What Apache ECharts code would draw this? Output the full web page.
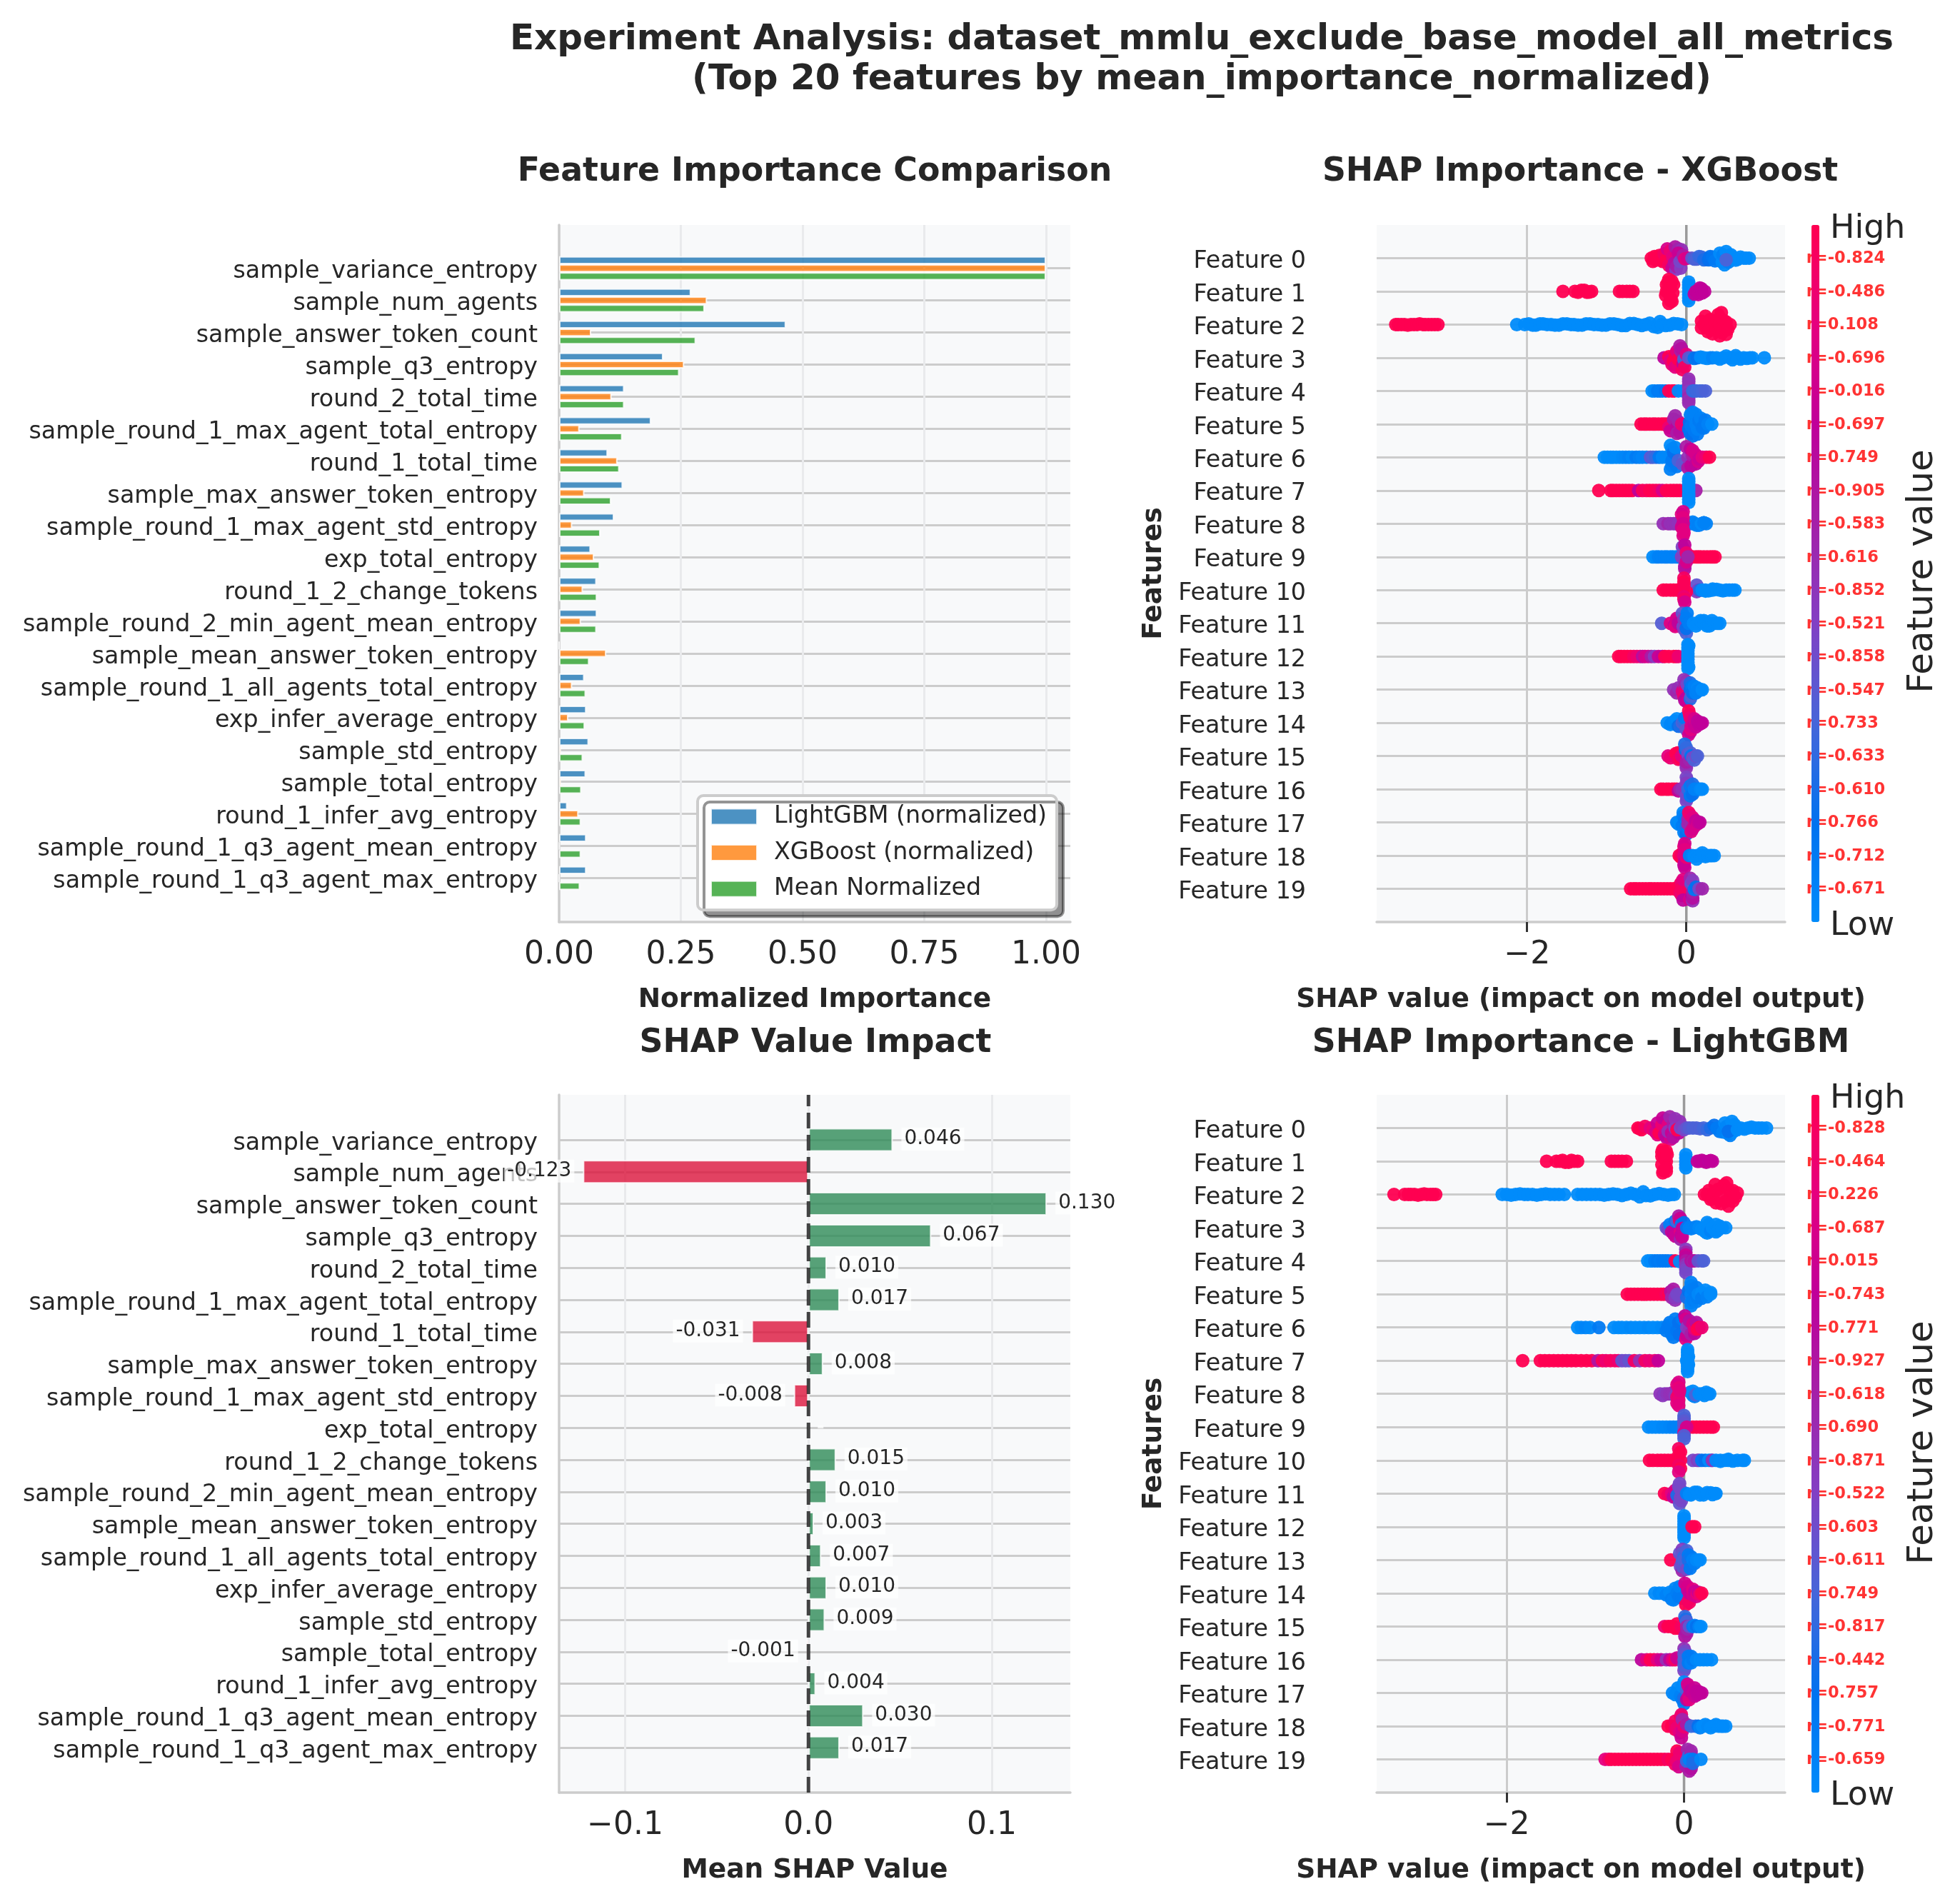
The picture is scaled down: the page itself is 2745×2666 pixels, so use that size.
<!DOCTYPE html>
<html><head><meta charset="utf-8">
<style>html,body{margin:0;padding:0;background:#fff}#c{width:2745px;height:2666px}</style>
<script src="https://cdn.jsdelivr.net/npm/echarts@6/dist/echarts.min.js"></script>
</head><body><div id="c"></div>
<script>
const featureNames = ['sample_variance_entropy','sample_num_agents','sample_answer_token_count','sample_q3_entropy','round_2_total_time','sample_round_1_max_agent_total_entropy','round_1_total_time','sample_max_answer_token_entropy','sample_round_1_max_agent_std_entropy','exp_total_entropy','round_1_2_change_tokens','sample_round_2_min_agent_mean_entropy','sample_mean_answer_token_entropy','sample_round_1_all_agents_total_entropy','exp_infer_average_entropy','sample_std_entropy','sample_total_entropy','round_1_infer_avg_entropy','sample_round_1_q3_agent_mean_entropy','sample_round_1_q3_agent_max_entropy'];
const lightgbmNorm = [1.0,0.271,0.466,0.214,0.134,0.189,0.100,0.131,0.113,0.065,0.077,0.078,0,0.052,0.056,0.061,0.055,0.017,0.056,0.056];
const xgboostNorm = [1.0,0.304,0.066,0.257,0.108,0.042,0.120,0.052,0.027,0.072,0.049,0.045,0.097,0.027,0.019,0.004,0.004,0.040,0.001,0];
const meanNorm = [1.0,0.299,0.281,0.247,0.134,0.130,0.124,0.107,0.085,0.084,0.078,0.077,0.062,0.055,0.053,0.049,0.046,0.045,0.045,0.043];
const meanShap = [0.046,-0.123,0.130,0.067,0.010,0.017,-0.031,0.008,-0.008,0,0.015,0.010,0.003,0.007,0.010,0.009,-0.001,0.004,0.030,0.017];
const shapRowNames = ['Feature 0','Feature 1','Feature 2','Feature 3','Feature 4','Feature 5','Feature 6','Feature 7','Feature 8','Feature 9','Feature 10','Feature 11','Feature 12','Feature 13','Feature 14','Feature 15','Feature 16','Feature 17','Feature 18','Feature 19'];
const rXgb = [-0.824,-0.486,0.108,-0.696,-0.016,-0.697,0.749,-0.905,-0.583,0.616,-0.852,-0.521,-0.858,-0.547,0.733,-0.633,-0.610,0.766,-0.712,-0.671];
const rLgb = [-0.828,-0.464,0.226,-0.687,0.015,-0.743,0.771,-0.927,-0.618,0.690,-0.871,-0.522,0.603,-0.611,0.749,-0.817,-0.442,0.757,-0.771,-0.659];
// each point: [shap value, vertical jitter in rows, feature value 0..1]
const xgbPoints = [
[[-.44,0,1],[-.42,.1,1],[-.38,.06,1],[-.4,-.05,1],[-.34,-.08,1],[-.33,.05,1],[-.3,.1,1],[-.28,-.13,.95],[-.25,.05,1],[-.24,-.28,.8],[-.22,.22,.95],[-.2,-.22,.9],[-.18,.3,.75],[-.17,-.05,.85],[-.14,-.34,.62],[-.13,.34,.45],[-.15,.15,.65],[-.12,.25,.6],[-.1,-.28,.55],[-.07,.3,.45],[-.06,-.25,.5],[-.1,-.15,.75],[-.08,.1,.4],[-.04,-.08,.6],[-.02,.02,.85],[.02,0,.8],[.07,0,.35],[.1,.03,.3],[.13,.03,.3],[.16,-.05,.25],[.19,-.03,.25],[.22,.05,.2],[.25,.03,.2],[.28,.05,.15],[.3,-.05,.15],[.33,-.03,.12],[.36,.08,.1],[.39,.04,.1],[.42,-.15,0],[.45,.12,0],[.46,-.1,.05],[.48,.2,0],[.5,-.2,0],[.53,.12,.05],[.56,-.1,0],[.59,-.03,0],[.62,.06,0],[.65,.03,0],[.68,-.03,0],[.72,0,0],[.75,0,0],[.5,.05,.3],[.79,0,0]],
[[-1.55,0,1],[-1.4,0,1],[-1.36,.03,1],[-1.32,-.03,1],[-1.28,-.03,1],[-1.25,.03,1],[-1.22,.02,1],[-1.19,0,1],[-.84,0,1],[-.8,0,1],[-.75,0,1],[-.71,0,1],[-.67,0,1],[-.22,-.36,1],[-.22,.36,1],[-.25,-.2,1],[-.23,-.28,1],[-.2,.28,1],[-.18,-.3,1],[-.18,.3,1],[-.26,.12,1],[-.2,-.1,1],[-.25,0,1],[-.17,.05,1],[-.2,.2,1],[-.16,-.2,1],[.03,-.28,0],[.03,-.2,0],[.03,-.1,0],[.03,0,0],[.03,.1,0],[.03,.2,0],[.03,.28,0],[.1,.08,.72],[.12,0,.72],[.15,.1,.72],[.17,-.1,.72],[.19,-.08,.72],[.2,.05,.72],[.23,0,.72]],
[[-3.65,0,1],[-3.62,0,1],[-3.58,0,1],[-3.54,0,1],[-3.5,.02,1],[-3.46,0,1],[-3.42,0,1],[-3.38,0,1],[-3.35,-.02,1],[-3.31,0,1],[-3.28,0,1],[-3.24,0,1],[-3.2,0,1],[-3.16,0,1],[-3.12,0,1],[-2.13,0,0],[-2.03,0,0],[-1.98,-.02,0],[-1.93,.02,0],[-1.89,.02,0],[-1.84,-.02,0],[-1.8,-.02,0],[-1.75,0,0],[-1.7,0,0],[-1.65,.02,0],[-1.6,.02,0],[-1.55,-.02,0],[-1.5,-.02,0],[-1.45,0,0],[-1.41,0,0],[-1.36,.02,0],[-1.31,.02,0],[-1.26,-.02,0],[-1.21,-.02,0],[-1.16,0,0],[-1.11,0,0],[-1.06,.02,0],[-1.01,.02,0],[-.96,-.02,0],[-.91,-.02,0],[-.86,0,0],[-.81,.03,0],[-.76,.03,0],[-.71,-.03,0],[-.66,-.03,0],[-.61,0,0],[-.56,.03,0],[-.51,0,0],[-.46,-.04,0],[-.41,.06,0],[-.36,.09,0],[-.33,-.09,0],[-.31,0,0],[-.26,.03,0],[-.21,.02,0],[-.16,-.03,0],[-.11,-.02,0],[-.06,0,0],[.19,-.1,1],[.19,.1,1],[.22,0,1],[.24,-.25,1],[.25,.1,1],[.27,.22,1],[.3,-.15,1],[.32,0,1],[.33,.28,1],[.36,-.1,1],[.38,.12,1],[.4,-.3,1],[.42,.34,1],[.42,-.2,1],[.42,0,1],[.44,-.36,1],[.44,.1,1],[.45,.25,1],[.47,-.12,1],[.5,-.08,1],[.5,.3,1],[.52,.15,1],[.55,0,1]],
[[-.28,0,.7],[-.22,-.03,1],[-.2,.08,.85],[-.18,.2,.9],[-.16,.1,1],[-.14,-.1,1],[-.14,.28,.85],[-.12,-.2,.85],[-.1,.25,.88],[-.1,.05,1],[-.08,-.36,.6],[-.07,-.2,.6],[-.06,-.28,.65],[-.05,.36,.95],[-.04,.18,.7],[-.03,.05,.3],[-.02,.28,.95],[0,-.1,.85],[.03,0,.35],[.07,0,.3],[.1,.02,.12],[.14,0,.15],[.18,-.02,0],[.22,0,0],[.26,.02,0],[.3,0,0],[.33,0,.04],[.38,0,0],[.42,.04,0],[.46,0,0],[.5,-.05,0],[.54,0,0],[.58,.06,0],[.6,0,0],[.62,-.06,0],[.64,0,0],[.68,.04,0],[.72,0,0],[.76,.02,0],[.8,0,0],[.83,0,0],[.98,0,0]],
[[-.43,0,0],[-.4,0,.02],[-.36,0,.1],[-.33,0,.08],[-.3,0,.08],[-.26,0,.12],[-.22,0,1],[-.18,0,.98],[-.15,0,1],[-.1,0,0],[-.04,0,0],[0,0,0],[.03,-.36,.52],[.03,-.28,.5],[.03,-.2,.48],[.03,-.1,.5],[.03,0,.45],[.03,.1,.5],[.03,.2,.55],[.03,.28,.5],[.03,.36,.52],[.08,0,.25],[.1,0,.25],[.13,0,.27],[.17,0,.27],[.2,0,.28],[.24,0,.3]],
[[-.57,0,1],[-.53,0,1],[-.5,0,1],[-.46,0,1],[-.42,0,1],[-.39,0,1],[-.35,0,1],[-.31,0,1],[-.28,0,1],[-.25,0,1],[-.22,.1,.9],[-.2,.2,.75],[-.16,-.15,.6],[-.14,-.25,.55],[-.12,.1,.7],[-.12,.28,.6],[-.1,-.08,.55],[-.08,.25,.65],[-.06,0,.9],[.03,.15,.15],[.04,-.05,.15],[.05,-.28,.05],[.05,.28,.12],[.06,.05,.1],[.08,-.36,.05],[.08,.36,.15],[.1,-.2,.05],[.1,.2,.1],[.12,-.3,.05],[.12,0,.05],[.14,.3,.1],[.14,.15,.05],[.16,-.1,.1],[.18,-.18,.05],[.2,.1,.1],[.22,.12,.1],[.24,-.12,.1],[.27,0,.05],[.32,0,0]],
[[-1.03,0,0],[-.99,0,0],[-.95,0,0],[-.92,0,0],[-.88,0,0],[-.84,0,0],[-.8,0,.02],[-.76,0,.03],[-.72,0,.05],[-.68,0,.02],[-.63,0,.1],[-.59,0,.06],[-.55,0,.04],[-.5,0,.05],[-.45,0,.35],[-.42,0,.3],[-.38,0,.25],[-.34,0,.1],[-.3,0,.02],[-.25,0,.02],[-.2,-.36,0],[-.2,.36,.06],[-.18,-.25,.02],[-.18,.25,.05],[-.18,.1,.1],[-.16,-.15,.15],[-.14,-.3,.03],[-.12,.28,.1],[-.1,.1,.3],[-.05,.2,.35],[0,-.32,.6],[.02,.32,.62],[.02,0,.5],[.05,-.25,.7],[.06,.25,.7],[.08,-.05,.6],[.08,-.2,.8],[.12,.2,.7],[.12,-.08,.8],[.15,.12,.8],[.16,.05,.75],[.2,0,.85],[.25,0,.9],[.29,0,1]],
[[-1.1,0,1],[-.95,0,1],[-.92,0,1],[-.88,0,1],[-.84,0,1],[-.8,0,1],[-.76,0,1],[-.72,0,1],[-.68,0,1],[-.6,0,.7],[-.55,0,.98],[-.5,0,.95],[-.46,0,1],[-.42,0,1],[-.38,0,.98],[-.34,0,.95],[-.3,0,.8],[-.25,0,1],[-.2,0,1],[-.16,0,1],[-.12,0,1],[-.08,0,1],[.12,0,.58],[.03,-.36,0],[.03,-.27,0],[.03,-.18,0],[.03,-.09,0],[.03,0,0],[.03,.09,0],[.03,.18,0],[.03,.27,0],[.03,.36,0]],
[[-.29,0,.5],[-.23,0,.55],[-.2,0,.5],[-.16,0,.5],[-.13,0,.5],[-.1,0,.48],[.2,0,1],[.05,0,.2],[.08,-.05,.05],[.1,0,.05],[.13,.05,.05],[.16,.05,.05],[.19,0,0],[.22,-.03,0],[.25,0,.05],[.22,-.03,.05],[-.06,-.28,.85],[-.06,.1,.8],[-.04,-.36,.8],[-.04,-.18,.85],[-.04,0,.78],[-.04,.18,.85],[-.04,.36,.82],[-.03,.28,.85]],
[[-.42,0,0],[-.38,0,0],[-.35,0,.05],[-.31,0,.05],[-.27,0,.05],[-.24,0,.05],[-.2,0,.05],[-.17,0,.05],[-.13,0,.05],[-.1,0,.05],[.06,0,1],[.08,0,1],[.12,0,1],[.15,0,1],[.18,0,1],[.22,0,1],[.26,0,1],[.3,0,1],[.33,0,1],[.36,0,1],[-.06,0,.45],[-.05,-.3,.42],[-.03,-.2,.4],[-.02,.36,.65],[-.02,.28,.65],[-.02,-.36,.72],[0,-.12,.9],[0,.15,.8],[.02,0,.55]],
[[-.29,0,1],[-.25,0,1],[-.2,0,1],[-.16,0,1],[-.12,0,1],[-.08,0,1],[-.04,0,1],[.13,.05,.45],[.13,-.15,.35],[.15,0,.45],[.17,0,.2],[.2,0,0],[.24,.03,0],[.24,0,0],[.28,.02,0],[.33,-.03,0],[.33,0,0],[.38,-.02,0],[.42,0,0],[.46,.02,0],[.5,0,0],[.54,0,0],[.58,0,0],[.61,0,0],[0,.05,1],[-.03,-.36,.95],[-.03,-.25,1],[-.03,-.15,.98],[-.03,.2,.9],[-.03,.28,.95],[-.02,.36,.8]],
[[-.31,0,.32],[-.2,0,.85],[-.15,.05,.75],[-.14,.1,.85],[-.12,-.1,.85],[-.12,-.15,.8],[-.1,0,.7],[-.05,-.3,.35],[-.04,.1,.4],[-.03,.18,.45],[-.03,-.12,.48],[.01,-.3,.08],[0,.3,.3],[0,-.15,.08],[0,.15,.15],[.03,0,.08],[.09,0,0],[.12,.08,0],[.15,0,0],[.18,-.08,0],[.22,0,0],[.22,-.08,0],[.26,.08,0],[.29,0,0],[.29,.08,0],[.32,-.08,0],[.35,0,0],[.39,0,0],[.42,0,0]],
[[-.85,0,1],[-.82,0,1],[-.78,0,1],[-.74,0,1],[-.7,0,1],[-.66,0,.95],[-.62,0,.9],[-.58,0,.9],[-.55,0,.65],[-.52,0,.8],[-.48,0,.8],[-.44,0,.6],[-.4,0,.45],[-.35,0,.75],[-.3,0,.7],[-.27,0,1],[-.22,0,1],[-.16,0,1],[-.13,0,1],[-.1,0,.9],[.02,-.36,0],[.03,-.32,0],[.02,-.27,0],[.02,-.18,0],[.02,-.09,0],[.02,0,0],[.02,.09,0],[.02,.18,0],[.02,.27,0],[.03,.32,0],[.02,.36,0]],
[[-.16,0,.5],[-.12,.1,.55],[-.1,-.05,.5],[-.05,.05,.85],[-.03,.2,.9],[-.03,-.3,.5],[-.02,-.12,.55],[-.02,.32,.65],[-.01,0,.9],[0,-.25,.5],[0,.25,.7],[0,.36,.75],[.01,-.15,.4],[.05,-.2,.2],[.05,0,.15],[.05,.28,.2],[.06,.2,.3],[.07,-.1,.1],[.08,.1,.15],[.1,-.1,.05],[.12,.1,.05],[.14,-.05,.03],[.14,.05,.05],[.18,0,.05],[.2,0,0]],
[[-.24,0,0],[-.2,.05,.02],[-.18,0,.03],[-.15,-.05,.02],[-.12,-.12,0],[-.1,.1,.15],[-.08,.1,.2],[-.05,0,.3],[-.03,-.05,.25],[-.02,-.15,.1],[0,.2,.35],[.03,-.36,1],[.03,.36,.8],[.04,-.25,.95],[.05,.28,.75],[.05,-.15,.9],[.06,.2,.85],[.06,.1,.8],[.1,.05,.75],[.1,-.12,.8],[.12,.12,.75],[.14,-.05,.7],[.16,.05,.72],[.18,0,.72],[.2,0,.72]],
[[-.23,0,.85],[-.2,.05,.9],[-.15,0,.9],[-.13,-.08,1],[-.1,-.1,1],[-.1,.1,.95],[-.07,.08,1],[-.06,0,.85],[-.02,-.36,.2],[-.01,-.18,.15],[0,-.25,.25],[0,.28,.45],[0,.36,.5],[0,.18,.6],[.02,-.05,.4],[.04,.12,.55],[.05,-.1,.3],[.06,0,.12],[.08,.05,.4],[.1,.12,.3],[.12,0,.4],[.14,0,.3]],
[[-.32,0,1],[-.29,0,1],[-.25,0,1],[-.22,0,1],[-.18,0,1],[-.15,0,1],[-.12,0,1],[-.1,.05,.7],[-.08,0,.55],[-.05,0,.5],[0,-.36,.42],[.01,-.28,.4],[0,-.18,.45],[0,.36,.42],[.01,.28,.4],[0,.18,.4],[.02,0,.25],[.05,-.1,.1],[.05,.2,.1],[.08,-.15,.2],[.08,.15,.15],[.1,0,.05],[.13,0,.05],[.16,0,.05],[.18,0,.02],[.2,0,0]],
[[-.12,0,.05],[-.1,.05,.02],[-.08,0,0],[-.05,.1,.08],[-.04,-.3,.02],[-.04,-.2,.05],[-.03,.3,.05],[-.02,-.1,.1],[0,.36,.15],[0,.15,.2],[.02,.22,.1],[.02,-.1,.55],[.02,.05,.55],[.03,-.3,.95],[.05,-.22,.9],[.06,.28,.85],[.08,.2,.8],[.08,-.15,.85],[.1,.12,.8],[.12,-.05,.72],[.14,.05,.8],[.15,0,.75],[.17,0,.72]],
[[-.09,0,1],[-.07,.05,1],[-.06,-.05,.95],[-.03,0,.85],[-.03,-.28,.9],[-.03,.28,.72],[-.02,-.36,.8],[-.02,-.18,.85],[-.02,.18,.75],[-.02,.36,.75],[0,.05,.9],[.02,0,.8],[.04,0,.05],[.08,0,.03],[.1,.02,0],[.13,0,0],[.13,.1,0],[.17,0,0],[.2,0,0],[.2,-.08,0],[.24,.03,0],[.27,0,0],[.3,0,0],[.32,0,0],[.35,0,0]],
[[-.7,0,1],[-.66,0,1],[-.63,0,1],[-.59,0,1],[-.55,0,1],[-.51,0,1],[-.47,0,1],[-.44,0,1],[-.4,0,1],[-.36,0,1],[-.32,0,1],[-.28,0,1],[-.24,0,1],[-.2,0,1],[-.16,0,1],[-.12,0,1],[-.08,-.12,1],[-.08,.12,.95],[-.06,-.2,.9],[-.06,.2,.9],[-.06,0,.95],[-.04,.34,.7],[-.04,-.28,.85],[.04,.32,.8],[.05,-.32,.55],[.06,-.15,.35],[.07,.22,.7],[.08,.36,.5],[.08,-.25,.45],[.08,.28,.65],[.08,.1,.6],[.1,.02,.1],[.12,-.05,.15],[.16,0,.4],[.2,0,.55]]
];
const lgbPoints = [
[[-.52,0,1],[-.5,.02,1],[-.48,.05,1],[-.44,-.05,.95],[-.38,0,.85],[-.35,.05,.9],[-.32,.12,.8],[-.3,-.15,.75],[-.3,.2,.85],[-.28,.15,1],[-.25,-.1,.9],[-.24,-.3,.75],[-.22,.2,.8],[-.2,-.25,.7],[-.2,.28,.7],[-.18,-.1,.85],[-.16,-.34,.55],[-.15,.34,.8],[-.18,.1,.5],[-.14,.15,.75],[-.12,.28,.65],[-.12,-.12,.6],[-.1,-.28,.5],[-.1,0,.45],[-.06,.15,.7],[-.05,-.2,.5],[-.08,.05,1],[-.04,0,.4],[-.02,-.05,.45],[0,.05,.4],[.03,0,.35],[.06,0,.32],[.1,0,.3],[.14,0,.3],[.18,.02,.3],[.22,0,.28],[.26,.05,.25],[.3,0,.2],[.34,-.08,.15],[.37,0,.1],[.4,.1,.1],[.44,.12,.05],[.46,-.15,0],[.48,-.05,.03],[.5,.18,0],[.52,.22,.05],[.54,-.2,0],[.55,.12,0],[.57,-.1,0],[.5,.1,.15],[.6,.05,0],[.64,0,0],[.68,.03,0],[.72,0,0],[.76,-.03,0],[.8,0,0],[.84,0,0],[.88,0,0],[.93,0,0]],
[[-1.55,0,1],[-1.44,0,1],[-1.4,0,1],[-1.37,-.03,1],[-1.34,.03,1],[-1.3,.03,1],[-1.27,-.03,1],[-1.24,0,1],[-1.2,0,1],[-.82,0,1],[-.78,0,1],[-.74,0,1],[-.7,0,1],[-.65,0,1],[-.24,-.35,1],[-.24,.35,1],[-.25,-.28,1],[-.23,.28,1],[-.2,-.3,1],[-.2,.3,1],[-.25,-.15,1],[-.25,.1,1],[-.22,-.08,1],[-.2,0,1],[-.2,.2,1],[-.19,-.2,1],[.02,-.2,0],[.02,-.1,0],[.02,0,0],[.02,.1,0],[.02,.2,0],[.15,0,.72],[.17,0,.72],[.2,-.03,.72],[.22,0,.72],[.25,.03,.72],[.28,0,.7],[.3,-.02,.72],[.32,0,.72]],
[[-3.27,0,1],[-3.15,0,1],[-3.11,0,1],[-3.08,0,1],[-3.04,0,1],[-3.0,.02,1],[-2.96,0,1],[-2.93,-.02,1],[-2.9,0,1],[-2.86,0,1],[-2.83,0,1],[-2.8,0,1],[-2.05,0,0],[-2.0,0,0],[-1.95,.02,0],[-1.9,0,0],[-1.85,-.02,0],[-1.8,0,0],[-1.76,0,0],[-1.71,0,0],[-1.66,.02,0],[-1.61,0,0],[-1.56,-.02,0],[-1.51,0,0],[-1.46,0,0],[-1.41,0,0],[-1.35,0,0],[-1.2,0,0],[-1.15,0,0],[-1.1,0,0],[-1.05,0,0],[-1,0,0],[-.95,0,0],[-.9,.02,0],[-.85,0,0],[-.8,-.02,0],[-.75,0,0],[-.7,.03,0],[-.65,0,0],[-.6,-.04,0],[-.55,0,0],[-.5,.07,0],[-.46,-.08,0],[-.43,.03,0],[-.38,.04,0],[-.33,0,0],[-.28,-.03,0],[-.23,0,0],[-.18,.02,0],[-.14,0,0],[-.11,0,0],[.23,0,1],[.26,0,1],[.28,-.12,1],[.3,.15,1],[.32,.12,1],[.34,-.05,1],[.35,-.3,1],[.36,.25,1],[.38,-.15,1],[.42,.05,1],[.42,.28,1],[.45,-.28,1],[.47,.2,1],[.48,-.35,1],[.5,.35,1],[.52,.15,1],[.5,-.15,1],[.55,-.12,1],[.55,.2,1],[.58,.08,1],[.6,-.05,1]],
[[-.2,0,.35],[-.18,.05,.4],[-.16,-.1,.05],[-.14,.12,.75],[-.12,.18,.7],[-.1,.25,.75],[-.1,-.2,.1],[-.08,-.2,.3],[-.06,-.35,.6],[-.05,-.22,1],[-.04,-.28,.75],[-.04,.35,.55],[-.04,.12,.85],[-.03,.22,.7],[-.03,-.1,.1],[-.02,.28,.75],[0,-.15,.15],[-.02,.02,.75],[.03,0,.1],[.06,0,.05],[.08,.03,.05],[.11,0,.05],[.14,-.03,.05],[.17,0,.02],[.2,.05,0],[.23,0,0],[.24,.12,0],[.26,-.16,0],[.26,.16,0],[.28,-.1,0],[.3,.1,.05],[.32,0,0],[.36,-.1,0],[.36,.12,0],[.38,.08,0],[.4,-.05,0],[.43,0,0],[.47,0,0]],
[[-.41,0,0],[-.38,0,0],[-.36,0,0],[-.33,0,.08],[-.3,0,.1],[-.27,0,.08],[-.24,0,.1],[-.21,0,.1],[-.18,0,.1],[-.14,0,.1],[-.1,0,1],[-.05,.02,0],[.02,-.35,.45],[.02,-.26,.55],[.02,-.18,.75],[.02,-.1,.7],[.02,0,.62],[.02,.1,.5],[.02,.18,.45],[.02,.26,.42],[.02,.35,.4],[.08,0,.65],[.1,0,.6],[.12,0,.65],[.16,0,.35],[.2,0,.35],[.22,0,.3]],
[[-.64,0,1],[-.6,0,1],[-.56,0,1],[-.52,0,1],[-.48,0,1],[-.45,0,1],[-.42,0,1],[-.38,0,1],[-.34,0,1],[-.3,0,1],[-.26,0,1],[-.23,0,1],[-.2,0,.95],[-.17,0,1],[-.15,-.08,.65],[-.14,.1,.55],[-.12,-.15,.6],[-.1,.18,.5],[-.1,.1,.45],[-.08,0,.4],[-.06,.05,.4],[.03,.1,.2],[.05,-.1,.15],[.08,-.35,.05],[.08,.35,.05],[.08,-.25,.05],[.08,.25,.05],[.08,0,.05],[.1,-.15,.08],[.1,.18,.08],[.14,-.2,.08],[.14,.22,.05],[.15,.1,.08],[.16,0,.02],[.2,-.05,0],[.2,.12,.08],[.24,-.12,0],[.26,.08,.05],[.3,-.05,0],[.3,0,0]],
[[-1.2,0,0],[-1.16,0,.02],[-1.11,0,.04],[-1.06,0,.02],[-.96,0,.1],[-.79,0,0],[-.74,0,0],[-.7,0,0],[-.65,0,0],[-.6,0,.02],[-.55,0,0],[-.5,0,0],[-.45,0,0],[-.4,0,.02],[-.35,0,0],[-.3,0,0],[-.25,0,.02],[-.2,.1,.1],[-.18,-.05,.1],[-.16,-.15,.1],[-.14,.2,.1],[-.12,.3,.1],[-.1,-.25,.08],[-.08,.1,.12],[-.06,-.15,.15],[-.05,.22,.15],[-.02,-.25,.1],[.01,-.35,.7],[.02,.35,.85],[.02,-.25,.8],[.03,.25,.75],[.03,0,.45],[.06,.1,.5],[.06,-.2,.65],[.08,.2,.6],[.1,-.1,.8],[.12,.18,.7],[.12,.05,.85],[.14,-.15,.65],[.15,.05,1],[.17,0,1],[.2,0,.9]],
[[-1.82,0,1],[-1.62,0,1],[-1.57,0,1],[-1.52,0,1],[-1.47,0,1],[-1.42,0,1],[-1.37,0,1],[-1.32,0,1],[-1.27,0,1],[-1.22,0,1],[-1.16,0,1],[-1.1,0,1],[-1.04,0,1],[-.97,0,.62],[-.92,0,.98],[-.88,0,.9],[-.83,0,.95],[-.78,0,.95],[-.74,0,.9],[-.7,0,.35],[-.66,0,.4],[-.62,0,.35],[-.56,0,.95],[-.5,0,.5],[-.44,0,.95],[-.39,0,.88],[-.33,0,.9],[-.29,0,.72],[.04,-.33,0],[.04,-.25,0],[.04,-.16,0],[.04,-.08,0],[.04,0,0],[.04,.08,0],[.04,.16,0],[.04,.25,0],[.04,.33,0],[.05,-.12,0],[.05,.12,0],[.03,0,0]],
[[-.27,0,.48],[-.24,.05,.47],[-.22,0,.45],[-.19,0,.48],[-.16,0,.5],[-.13,-.03,.5],[-.1,.05,.45],[.07,-.05,.05],[.1,.05,0],[.1,-.08,0],[.12,.08,.05],[.13,.03,.3],[.17,0,0],[.2,0,0],[.23,.05,0],[.25,-.05,0],[.27,0,0],[.29,0,0],[-.08,-.28,.85],[-.08,.28,.85],[-.08,.1,.9],[-.06,-.35,.82],[-.06,-.18,.88],[-.06,0,.95],[-.06,.18,.88],[-.06,.35,.85],[-.05,-.1,.85]],
[[-.4,0,0],[-.36,0,0],[-.32,0,0],[-.28,0,0],[-.24,0,.02],[-.2,0,.02],[-.16,0,.03],[-.12,0,.05],[-.08,0,.05],[.06,0,1],[.1,0,1],[.14,0,1],[.18,0,1],[.22,0,1],[.26,0,1],[.3,0,1],[.33,0,1],[0,-.35,.3],[0,-.26,.3],[0,-.18,.33],[0,-.1,.35],[0,0,.35],[0,.1,.4],[0,.18,.88],[.03,0,.8],[0,.26,.32],[0,.35,.3]],
[[-.39,0,1],[-.35,0,1],[-.3,0,1],[-.26,0,1],[-.22,0,1],[-.18,0,1],[-.14,0,1],[-.1,0,1],[.1,0,.4],[.15,0,.45],[.17,0,.4],[.2,0,.1],[.24,0,.15],[.28,0,0],[.31,0,.05],[.32,0,.5],[.36,0,0],[.41,0,0],[.41,.03,0],[.46,0,0],[.5,0,0],[.5,-.03,0],[.55,.02,0],[.6,0,0],[.66,0,0],[.68,0,0],[-.06,-.35,.95],[-.04,-.25,1],[-.06,-.15,1],[-.04,0,1],[-.06,.15,.95],[-.04,.25,1],[-.06,.35,.85]],
[[-.22,0,1],[-.18,.03,.95],[-.14,0,.85],[-.12,.1,.7],[-.1,-.1,.8],[-.08,.12,.75],[-.08,.05,.2],[-.06,-.22,.4],[-.05,-.3,.4],[-.05,.3,.35],[-.04,.12,.42],[-.04,-.12,.4],[-.03,.22,.4],[.03,0,.05],[.06,.03,0],[.08,.04,0],[.12,-.04,0],[.15,-.04,0],[.18,.04,0],[.22,.04,0],[.26,-.03,0],[.3,-.02,0],[.32,.03,0],[.35,0,0],[.36,0,0]],
[[0,-.33,0],[0,-.25,0],[0,-.16,0],[0,-.08,0],[0,0,0],[0,.08,0],[0,.16,0],[0,.25,0],[0,.33,0],[.09,0,1],[.12,0,1]],
[[-.15,0,1],[-.05,-.2,.35],[-.04,.2,.4],[-.02,.32,.55],[-.02,-.32,.45],[-.02,.05,.3],[-.02,-.2,.35],[-.02,.2,.35],[0,-.1,.25],[0,0,.3],[.03,.15,.3],[.03,-.28,.3],[.03,.28,.4],[.05,-.15,.1],[.05,0,.2],[.07,.25,.1],[.08,-.1,.1],[.1,0,.05],[.12,.1,.08],[.14,0,.02],[.16,0,.02],[.18,0,0]],
[[-.33,0,0],[-.28,0,.02],[-.24,0,0],[-.2,.05,.05],[-.16,-.03,.02],[-.14,.18,.08],[-.12,.2,.05],[-.1,-.15,.03],[-.08,0,.08],[-.06,.1,.1],[-.05,-.2,.05],[-.02,.15,.1],[.01,-.3,.8],[.02,.35,1],[.04,-.1,.65],[.04,-.2,.8],[.05,.22,.9],[.06,.28,.95],[.06,0,.75],[.1,.05,.8],[.1,-.12,.85],[.12,-.05,.75],[.14,.1,.8],[.15,0,.9],[.16,-.03,.75],[.18,.03,.9],[.2,0,1]],
[[-.22,0,.9],[-.18,0,1],[-.15,0,1],[-.12,0,1],[-.1,.05,1],[-.08,-.08,1],[-.06,.05,1],[-.03,0,.95],[.01,-.3,.25],[.01,.3,.65],[.02,-.22,.2],[.03,.22,.6],[.03,-.15,.3],[.03,.15,.62],[.03,0,.55],[.04,.08,.55],[.06,0,.35],[.1,0,.1],[.12,-.03,.05],[.14,0,.15],[.17,0,.05],[.19,0,0]],
[[-.48,0,.7],[-.42,0,.85],[-.38,0,1],[-.34,0,.98],[-.3,0,.85],[-.26,0,.75],[-.2,0,.5],[-.16,0,.7],[-.13,0,.85],[-.1,0,.95],[-.08,-.05,.75],[0,-.33,.5],[0,.33,.42],[.01,-.25,.4],[.01,.25,.35],[0,-.16,.35],[0,.16,.3],[0,0,.3],[.05,-.1,.1],[.05,.1,.1],[.08,-.1,.1],[.08,.1,.05],[.1,0,.1],[.14,0,.02],[.18,0,0],[.22,0,0],[.26,0,0],[.31,0,0]],
[[-.13,0,.03],[-.1,.05,.02],[-.07,-.15,.02],[-.04,.1,.05],[-.02,-.2,0],[-.02,.2,.08],[0,-.33,0],[0,.33,.1],[0,.15,.2],[.03,-.08,.3],[.03,.2,.7],[.04,-.26,.8],[.05,-.2,.78],[.05,.12,.8],[.06,.2,.85],[.07,-.05,.75],[.08,-.08,.7],[.1,0,.75],[.12,-.15,.75],[.12,.1,.75],[.14,-.05,.72],[.15,.05,.72],[.17,-.03,.72],[.18,0,.72],[.2,0,.72]],
[[-.18,0,1],[-.14,0,1],[-.1,-.15,.95],[-.1,.1,.95],[-.08,.05,.9],[-.05,.2,.85],[-.04,-.28,.95],[-.03,-.35,.9],[-.03,.35,.75],[-.02,.15,.8],[-.02,-.2,.55],[0,.02,.9],[.03,-.05,.6],[.08,0,.25],[.13,0,.25],[.16,0,.15],[.18,.05,.05],[.21,0,0],[.24,-.05,0],[.27,0,.02],[.3,.05,0],[.33,0,0],[.36,-.05,0],[.39,0,0],[.42,0,0],[.44,0,0],[.47,0,0]],
[[-.89,0,.85],[-.85,0,.9],[-.82,0,1],[-.78,0,1],[-.74,0,1],[-.7,0,1],[-.66,0,1],[-.62,0,1],[-.58,0,1],[-.54,0,1],[-.5,0,1],[-.46,0,1],[-.42,0,1],[-.38,0,1],[-.34,0,1],[-.3,0,1],[-.26,0,1],[-.22,0,1],[-.18,0,.95],[-.14,0,1],[-.1,.15,.95],[-.08,-.25,1],[-.08,.05,.9],[-.06,.22,.8],[-.05,-.2,.9],[.02,.2,.6],[.04,-.3,.55],[.05,-.08,.25],[.06,.35,.6],[.06,.15,.55],[.08,-.15,.55],[.08,-.25,.55],[.08,.28,.65],[.03,.05,.25],[.06,0,.05],[.1,0,.1],[.1,.12,.2],[.19,0,.02]]
];

const FF = "'DejaVu Sans'";
const INK = '#262626', RULE = '#cccccc', PANEL = '#f8f9fa';
const panelLeft = 783, panelWidth = 716, shapLeft = 1928, shapWidth = 572;
const topRow = {y:315,h:976,barY:353.2,barH:898.8};
const lowRow = {y:1533,h:977,barY:1573.6,barH:896};
const shapColors = ['#008bfb','#0072ef','#4666d9','#8240c4','#a420a8','#c0009a','#e5007f','#ff0051'];
const fmtTick = d => v => v.toFixed(d).replace('-', '\u2212');

const grid = [
  {left:panelLeft,width:panelWidth,top:topRow.y,height:topRow.h,show:true,backgroundColor:PANEL,borderWidth:0},
  {left:panelLeft,width:panelWidth,top:topRow.barY,height:topRow.barH},
  {left:panelLeft,width:panelWidth,top:lowRow.y,height:lowRow.h,show:true,backgroundColor:PANEL,borderWidth:0},
  {left:panelLeft,width:panelWidth,top:lowRow.barY,height:lowRow.barH},
  {left:shapLeft,width:shapWidth,top:topRow.y,height:topRow.h,show:true,backgroundColor:PANEL,borderWidth:0},
  {left:shapLeft,width:shapWidth,top:lowRow.y,height:lowRow.h,show:true,backgroundColor:PANEL,borderWidth:0}
];
function visX(i,min,max,ticks,dec,name,opts){
  return Object.assign({gridIndex:i,type:'value',min,max,name,nameLocation:'middle',nameGap:90,
    nameTextStyle:{fontFamily:FF,fontWeight:'bold',fontSize:37.5,color:INK},
    axisLine:{show:true,onZero:false,lineStyle:{color:RULE,width:3.5}},
    axisTick:{show:false,customValues:ticks},
    axisLabel:{show:true,customValues:ticks,fontFamily:FF,fontSize:44,color:INK,margin:25,formatter:fmtTick(dec),showMinLabel:true,showMaxLabel:true},
    splitLine:{show:true,lineStyle:{color:'#e9eaec',width:3}}},opts||{});
}
function hidX(i,min,max){return {gridIndex:i,type:'value',min,max,show:false,splitLine:{show:false}};}
function frameY(i){return {gridIndex:i,type:'value',min:0,max:1,axisLine:{show:true,onZero:false,lineStyle:{color:RULE,width:3.5}},axisTick:{show:false},axisLabel:{show:false},splitLine:{show:false}};}
function catY(i){return {gridIndex:i,type:'category',inverse:true,data:featureNames,axisLine:{show:false},axisTick:{show:false},
  axisLabel:{fontFamily:FF,fontSize:33.3,color:INK,margin:30,interval:0,verticalAlign:'top',lineHeight:10},
  splitLine:{show:true,alignWithLabel:true,interval:0,lineStyle:{color:RULE,width:3}}};}
function shapY(i){return {gridIndex:i,type:'value',inverse:true,min:-1,max:20,interval:1,name:'Features',nameLocation:'middle',nameGap:293,nameRotate:90,
  nameTextStyle:{fontFamily:FF,fontWeight:'bold',fontSize:37.5,color:INK},
  axisLine:{show:false},axisTick:{show:false},
  axisLabel:{fontFamily:FF,fontSize:33.3,color:INK,margin:99,verticalAlign:'top',lineHeight:10,formatter:v=>shapRowNames[v]||''},
  splitLine:{show:true,showMinLine:false,showMaxLine:false,lineStyle:{color:RULE,width:3}}};}
const shapX = (i,min,max)=>visX(i,min,max,[-2,0],0,'SHAP value (impact on model output)',{
  axisTick:{show:true,customValues:[-2,0],length:14,lineStyle:{color:'#333',width:3}},
  splitLine:{show:true,lineStyle:{color:RULE,width:3}}});

const xAxis = [
  visX(0,0,1.05,[0,.25,.5,.75,1],2,'Normalized Importance'), hidX(1,0,1.05),
  visX(2,-0.136,0.1428,[-.1,0,.1],1,'Mean SHAP Value'), hidX(3,-0.136,0.1428),
  shapX(4,-3.89,1.24), shapX(5,-3.466,1.139)
];
const yAxis = [frameY(0),catY(1),frameY(2),catY(3),shapY(4),shapY(5)];

function impBar(name,vals,color){return {type:'bar',name,xAxisIndex:1,yAxisIndex:1,data:vals,barWidth:11.2,barGap:'0%',z:3,
  itemStyle:{color,borderColor:'rgba(255,255,255,.8)',borderWidth:2}};}
function swarmRows(rows){const out=[];rows.forEach((r,i)=>r.forEach(p=>out.push([p[0],i+p[1],p[2]])));return out;}
function swarm(i,rows){return {type:'scatter',xAxisIndex:i,yAxisIndex:i,symbol:'circle',symbolSize:19,data:swarmRows(rows),z:3,clip:false,itemStyle:{opacity:.95},encode:{x:0,y:1}};}
function zeroLine(i){return {type:'line',xAxisIndex:i,yAxisIndex:i,data:[[0,-1],[0,20]],showSymbol:false,silent:true,z:1,lineStyle:{color:'#9a9a9a',width:3.5}};}
function rLabels(i,vals,at){return {type:'scatter',xAxisIndex:i,yAxisIndex:i,symbolSize:0,clip:false,z:2,silent:true,
  data:vals.map((v,k)=>({value:[at,k],r:v})),
  label:{show:true,position:'right',distance:0,offset:[0,1],color:'#ff0000',fontFamily:FF,fontWeight:'bold',fontSize:22.5,
    formatter:p=>'r='+p.data.r.toFixed(3)}};}

const series = [
  impBar('LightGBM (normalized)',lightgbmNorm,'rgba(31,119,180,.8)'),
  impBar('XGBoost (normalized)',xgboostNorm,'rgba(255,127,14,.8)'),
  impBar('Mean Normalized',meanNorm,'rgba(44,160,44,.8)'),
  {type:'bar',xAxisIndex:3,yAxisIndex:3,barWidth:33,z:3,
   data:meanShap.map(v=>({value:v,
     itemStyle:{color:v<0?'rgba(220,20,60,.8)':'rgba(46,139,87,.8)',borderColor:'rgba(255,255,255,.8)',borderWidth:2},
     label:{position:v<0?'left':'right'}})),
   label:{show:true,distance:12,offset:[0,-1],color:INK,fontFamily:FF,fontSize:28,padding:[2,4],backgroundColor:'rgba(255,255,255,.72)',
     formatter:p=>p.value===0?'':p.value.toFixed(3)}},
  {type:'line',xAxisIndex:2,yAxisIndex:2,data:[[0,0],[0,1]],showSymbol:false,silent:true,z:5,lineStyle:{color:'rgba(0,0,0,.72)',width:5,type:[22,9]}},
  zeroLine(4), zeroLine(5),
  rLabels(4,rXgb,1.507), rLabels(5,rLgb,1.381),
  swarm(4,xgbPoints), swarm(5,lgbPoints)
];
const n = series.length;

function ttl(text,x,y,size){return {text,left:x,top:y,textAlign:'center',textVerticalAlign:'middle',
  textStyle:{fontFamily:FF,fontWeight:'bold',fontSize:size,color:INK}};}
function plain(text,x,y){return {text,left:x,top:y,textVerticalAlign:'middle',textStyle:{fontFamily:FF,fontWeight:'normal',fontSize:45.8,color:INK}};}
const title = [
  ttl('Experiment Analysis: dataset_mmlu_exclude_base_model_all_metrics',1678,51,50),
  ttl('(Top 20 features by mean_importance_normalized)',1678,107,50),
  ttl('Feature Importance Comparison',1136,236,45.8),
  ttl('SHAP Importance - XGBoost',2208,236,45.8),
  ttl('SHAP Value Impact',1137,1456,45.8),
  ttl('SHAP Importance - LightGBM',2209,1456,45.8),
  plain('High',2558,316),plain('Low',2558,1292),plain('High',2558,1534),plain('Low',2558,2510)
];
function vm(seriesIndex,top,h){return {type:'continuous',seriesIndex,dimension:2,min:0,max:1,calculable:false,hoverLink:false,realtime:false,
  orient:'vertical',left:2537,top,itemWidth:11,itemHeight:h,padding:0,text:null,showLabel:false,inRange:{color:shapColors}};}
function vertText(y){return {type:'text',x:2693,y,rotation:Math.PI/2,style:{text:'Feature value',fontFamily:FF,fontSize:50,fill:INK,textAlign:'center',textVerticalAlign:'middle'}};}

const chart = echarts.init(document.getElementById('c'),null,{renderer:'canvas',width:2745,height:2666});
chart.setOption({
  animation:false, backgroundColor:'#fff', textStyle:{fontFamily:FF},
  title, grid, xAxis, yAxis, series,
  legend:{data:['LightGBM (normalized)','XGBoost (normalized)','Mean Normalized'],orient:'vertical',left:977,top:1114,align:'left',
    padding:[13,14,13,18],itemWidth:64,itemHeight:22,itemGap:17.6,icon:'rect',
    textStyle:{fontFamily:FF,fontSize:33.3,color:INK,padding:[0,0,0,19]},
    backgroundColor:'#ffffff',borderColor:RULE,borderWidth:4,borderRadius:8,
    shadowColor:'rgba(0,0,0,.42)',shadowBlur:0,shadowOffsetX:9,shadowOffsetY:9},
  visualMap:[vm([n-2],topRow.y,topRow.h),vm([n-1],lowRow.y,lowRow.h)],
  graphic:[vertText(800),vertText(2020)]
});
</script></body></html>
